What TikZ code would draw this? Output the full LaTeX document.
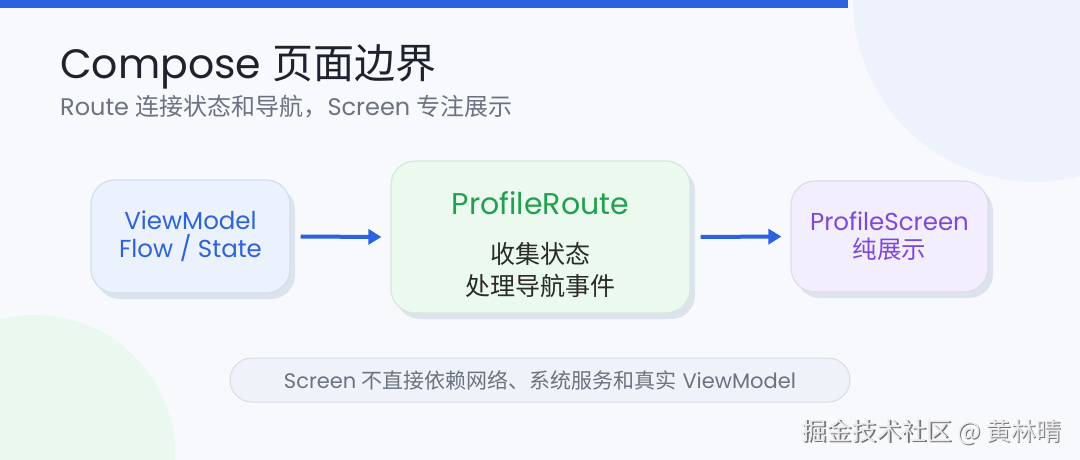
\documentclass[tikz,border=0pt]{standalone}
\usepackage{fontspec}
\setmainfont{Poppins}
\newfontfamily\cjk{Noto Sans CJK SC}
\newcommand\zh[1]{{\cjk #1}}
\usetikzlibrary{arrows.meta,shadows,calc,positioning}

\definecolor{pagebg}{HTML}{F7F9FC}
\definecolor{barblue}{HTML}{2D62DE}
\definecolor{blobblue}{HTML}{EDF2FC}
\definecolor{blobgreen}{HTML}{EAF8EF}
\definecolor{titleink}{HTML}{1E222E}
\definecolor{subink}{HTML}{6B7280}
\definecolor{cardshadow}{HTML}{DDE3ED}
\definecolor{vmfill}{HTML}{EBF1FD}
\definecolor{vmline}{HTML}{D4DEF0}
\definecolor{vmink}{HTML}{2F63D8}
\definecolor{routefill}{HTML}{EBF9EF}
\definecolor{routeline}{HTML}{D5E9DB}
\definecolor{routeink}{HTML}{23A04F}
\definecolor{bodyink}{HTML}{2A2A2A}
\definecolor{screenfill}{HTML}{F3EEFE}
\definecolor{screenline}{HTML}{E0D9F0}
\definecolor{screenink}{HTML}{7E48D8}
\definecolor{notefill}{HTML}{EFF3F9}
\definecolor{noteline}{HTML}{D6DDE8}

\begin{document}
\begin{tikzpicture}[x=1pt,y=-1pt,
    card/.style={rounded corners=24pt,line width=1.2pt,align=center,
      drop shadow={shadow xshift=5pt,shadow yshift=-6pt,fill=cardshadow,opacity=1},
      font=\fontsize{24.5}{28}\selectfont},
    flow/.style={barblue,line width=4pt,-{Triangle[length=13pt,width=15pt]},
      shorten <=10pt,shorten >=9pt},
    pill/.style={rounded corners=22pt,line width=1pt,draw=noteline,fill=notefill,
      text=subink,minimum width=620pt,minimum height=44pt,
      font=\fontsize{21}{24}\selectfont}]
  % Page
  \useasboundingbox (0,0) rectangle (1080,460);
  \fill[pagebg] (0,0) rectangle (1080,460);
  \begin{scope}
    \clip (0,0) rectangle (1080,460);
    \fill[blobblue] (1035,0) circle [radius=182];
    \fill[blobgreen] (35,455) circle [radius=140];
  \end{scope}
  \fill[barblue] (0,0) rectangle (848,8);
  %
  % Heading
  \node[anchor=base west,inner sep=0,text=titleink,font=\fontsize{41}{48}\selectfont]
    (title) at (60,78) {Compose \zh{页面边界}};
  \node[anchor=base west,inner sep=0,text=subink,font=\fontsize{24}{28}\selectfont]
    (subtitle) at (60,115) {Route \zh{连接状态和导航，}Screen \zh{专注展示}};
  %
  % Cards
  \node[card,draw=vmline,fill=vmfill,text=vmink,minimum width=199pt,minimum height=113pt]
    (vm) at (190.5,236.5) {ViewModel\\Flow / State};
  \node[card,draw=routeline,fill=routefill,minimum width=299pt,minimum height=152pt]
    (route) at (540.5,237) {};
  \node[card,draw=screenline,fill=screenfill,text=screenink,minimum width=197pt,minimum height=111pt]
    (screen) at (889.5,236.5) {ProfileScreen\\\zh{纯展示}};
  \node[text=routeink,font=\fontsize{30}{34}\selectfont]
    (routename) at ($(route.north)+(0,43)$) {ProfileRoute};
  \node[text=bodyink,align=center,font=\fontsize{25}{32}\selectfont\cjk]
    (routejob) at ($(route.north)+(0,110)$) {收集状态\\处理导航事件};
  %
  % Arrows
  \draw[flow] (vm.east) -- (route.west);
  \draw[flow] (route.east) -- (screen.west);
  %
  % Note
  \node[pill] (note) at (540,380) {Screen \zh{不直接依赖网络、系统服务和真实} ViewModel};
  %
  % Watermark
  \node[anchor=east,text=black!55,font=\fontsize{25}{28}\selectfont\cjk]
    (markshade) at (1066.5,433.5) {掘金技术社区 @ 黄林晴};
  \node[anchor=east,text=white!92!black,font=\fontsize{25}{28}\selectfont\cjk]
    (mark) at (1065,432) {掘金技术社区 @ 黄林晴};
\end{tikzpicture}
\end{document}
